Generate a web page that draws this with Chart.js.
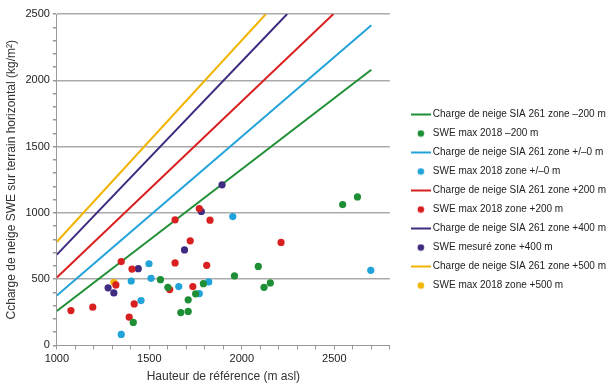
<!DOCTYPE html>
<html>
  <head>
    <script src="https://cdn.jsdelivr.net/npm/chart.js"></script>
    <style>
      body { margin: 0; background: #fff; }
    </style>
  </head>
  <body>
    <canvas id="swe" width="616" height="386"></canvas>
  </body>
  <script>
    // SIA 261 snow load lines (start / end points)
    const siaM200X = [1000, 2700];
    const siaM200Y = [260, 2080];
    const sia0X = [1000, 2700];
    const sia0Y = [376, 2415];
    const siaP200X = [1000, 2495];
    const siaP200Y = [512, 2500];
    const siaP400X = [1000, 2245];
    const siaP400Y = [685, 2500];
    const siaP500X = [1000, 2130];
    const siaP500Y = [782, 2500];

    // measured SWE max 2018
    const sweM200X = [1413, 1560, 1600, 1670, 1710, 1710, 1750, 1792, 1960, 2089, 2120, 2154, 2545, 2625];
    const sweM200Y = [173, 496, 438, 248, 256, 344, 389, 466, 524, 596, 438, 471, 1062, 1120];
    const swe0X = [1348, 1402, 1455, 1498, 1509, 1659, 1770, 1821, 1951, 2697];
    const swe0Y = [83, 486, 338, 616, 506, 444, 391, 479, 972, 566];
    const sweP200X = [1076, 1194, 1319, 1348, 1391, 1406, 1418, 1610, 1639, 1639, 1721, 1735, 1770, 1810, 1828, 2212];
    const sweP200Y = [263, 288, 456, 632, 213, 576, 313, 421, 947, 622, 789, 444, 1032, 604, 945, 777];
    const sweP400X = [1277, 1308, 1440, 1690, 1781, 1893];
    const sweP400Y = [434, 396, 579, 720, 1010, 1211];
    const sweP500X = [1308];
    const sweP500Y = [476];

    const green = "#1f8f35", blue = "#22a3d9", red = "#d92020", purple = "#3f2b80", yellow = "#f2b400";

    function pts(xs, ys) {
      return xs.map((x, i) => ({ x: x, y: ys[i] }));
    }

    function lineIcon(color) {
      const c = document.createElement("canvas");
      c.width = 20; c.height = 3;
      const g = c.getContext("2d");
      g.fillStyle = color;
      g.fillRect(0, 0.5, 20, 2);
      return c;
    }
    function dotIcon(color) {
      const c = document.createElement("canvas");
      c.width = 8; c.height = 8;
      const g = c.getContext("2d");
      g.fillStyle = color;
      g.beginPath();
      g.arc(4, 4, 3.3, 0, Math.PI * 2);
      g.fill();
      return c;
    }

    function lineSet(label, xs, ys, color) {
      return {
        type: "line", label: label, data: pts(xs, ys),
        borderColor: color, backgroundColor: color, borderWidth: 2,
        pointRadius: 0, showLine: true, fill: false, order: 2,
        icon: lineIcon(color)
      };
    }
    function dotSet(label, xs, ys, color) {
      return {
        type: "scatter", label: label, data: pts(xs, ys),
        backgroundColor: color, borderColor: color, borderWidth: 0,
        pointRadius: 3.6, order: 1, icon: dotIcon(color)
      };
    }

    const datasets = [
      lineSet("Charge de neige SIA 261 zone \u2013200 m", siaM200X, siaM200Y, green),
      dotSet("SWE max 2018 \u2013200 m", sweM200X, sweM200Y, green),
      lineSet("Charge de neige SIA 261 zone +/\u20130 m", sia0X, sia0Y, blue),
      dotSet("SWE max 2018 zone +/\u20130 m", swe0X, swe0Y, blue),
      lineSet("Charge de neige SIA 261 zone +200 m", siaP200X, siaP200Y, red),
      dotSet("SWE max 2018 zone +200 m", sweP200X, sweP200Y, red),
      lineSet("Charge de neige SIA 261 zone +400 m", siaP400X, siaP400Y, purple),
      dotSet("SWE mesur\u00e9 zone +400 m", sweP400X, sweP400Y, purple),
      lineSet("Charge de neige SIA 261 zone +500 m", siaP500X, siaP500Y, yellow),
      dotSet("SWE max 2018 zone +500 m", sweP500X, sweP500Y, yellow),
    ];

    const tickFont = { family: "Liberation Sans", size: 11 };

    const chart = new Chart(document.getElementById("swe"), {
      type: "scatter",
      data: { datasets: datasets },
      options: {
        responsive: false,
        devicePixelRatio: 1,
        animation: false,
        layout: { padding: { top: 14, right: 0, bottom: 0, left: 4 } },
        scales: {
          x: {
            type: "linear",
            min: 1000,
            max: 2800,
            border: { color: "#999" },
            grid: { drawOnChartArea: false, tickLength: 4, tickColor: "#999" },
            ticks: {
              stepSize: 100,
              autoSkip: false,
              maxRotation: 0,
              color: "#222",
              font: tickFont,
              padding: 3,
              callback: (v) => (v % 500 === 0 && v <= 2500 ? v : ""),
            },
            title: {
              display: true,
              text: "Hauteur de r\u00e9f\u00e9rence (m asl)",
              color: "#333",
              font: { family: "Liberation Sans", size: 12 },
              padding: { top: 1, bottom: 2 },
            },
          },
          y: {
            min: 0,
            max: 2500,
            border: { color: "#999" },
            grid: {
              color: (c) => (c.tick && c.tick.value % 500 === 0 && c.tick.value > 0 ? "#aaa" : "rgba(0,0,0,0)"),
              lineWidth: 1.5,
              tickLength: 4,
              tickColor: "#999",
            },
            ticks: {
              stepSize: 100,
              autoSkip: false,
              color: "#222",
              font: tickFont,
              padding: 3,
              callback: (v) => (v % 500 === 0 ? v : ""),
            },
            title: {
              display: true,
              text: "Ccharge de neige SWE sur terrain horizontal (kg/m\u00b2)",
              color: "#333",
              font: { family: "Liberation Sans", size: 12 },
              padding: { top: 0, bottom: 4 },
            },
          },
          // empty spacer between plot and legend
          gap: {
            position: "right",
            min: 0,
            max: 1,
            grid: { display: false },
            border: { display: false },
            ticks: { display: false },
            afterFit: (s) => { s.width = 15; },
          },
        },
        plugins: {
          tooltip: { enabled: false },
          legend: {
            position: "right",
            maxWidth: 240,
            labels: {
              usePointStyle: true,
              pointStyleWidth: 14,
              boxHeight: 10,
              padding: 9,
              color: "#222",
              font: { family: "Liberation Sans", size: 10 },
              generateLabels: (ch) =>
                ch.data.datasets.map((d, i) => ({
                  text: d.label,
                  pointStyle: d.icon,
                  fillStyle: d.backgroundColor,
                  strokeStyle: d.borderColor,
                  lineWidth: 0,
                  hidden: false,
                  datasetIndex: i,
                  fontColor: "#222",
                })),
            },
          },
        },
      },
    });
  </script>
</html>
